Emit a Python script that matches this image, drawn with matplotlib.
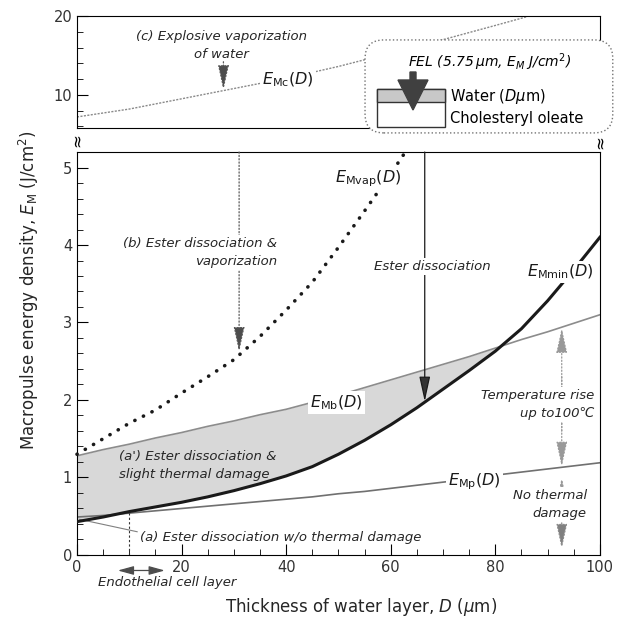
import numpy as np
import matplotlib.pyplot as plt
from matplotlib.patches import FancyBboxPatch, Rectangle, FancyArrow
from matplotlib.ticker import MultipleLocator

# thickness of water layer D (um) and threshold energy densities (J/cm2)
D = [0, 5, 10, 15, 20, 25, 30, 35, 40, 45, 50, 55, 60, 65, 70, 75, 80, 85, 90, 95, 100]
E_Mmin = [0.43, 0.49, 0.56, 0.62, 0.68, 0.75, 0.83, 0.92, 1.02, 1.14, 1.30, 1.48, 1.68,
          1.90, 2.14, 2.38, 2.63, 2.92, 3.28, 3.68, 4.10]
E_Mb = [1.28, 1.36, 1.43, 1.51, 1.58, 1.66, 1.73, 1.81, 1.88, 1.97, 2.06, 2.16, 2.26,
        2.36, 2.46, 2.56, 2.67, 2.78, 2.88, 2.99, 3.10]
E_Mp = [0.49, 0.51, 0.54, 0.57, 0.60, 0.63, 0.66, 0.69, 0.72, 0.75, 0.79, 0.82, 0.86,
        0.90, 0.94, 0.98, 1.03, 1.07, 1.11, 1.15, 1.19]

D_vap = [0, 5, 10, 15, 20, 25, 30, 35, 40, 45, 50, 55, 60, 63]
E_Mvap = [1.30, 1.50, 1.70, 1.87, 2.09, 2.30, 2.52, 2.82, 3.16, 3.52, 3.97, 4.44, 4.92, 5.22]

D_c = [0, 10, 20, 30, 40, 50, 60, 70, 80, 86]
E_Mc = [7.2, 8.2, 9.5, 10.8, 12.1, 13.6, 15.3, 17.0, 18.8, 19.9]

fig = plt.figure(figsize=(6.24, 6.24), dpi=100)
ax = fig.add_axes([0.1234, 0.1106, 0.838, 0.6458])
axt = fig.add_axes([0.1234, 0.7949, 0.838, 0.1795])

# lower panel
ax.set_xlim(0, 100)
ax.set_ylim(0, 5.2)
ax.xaxis.set_major_locator(MultipleLocator(20))
ax.xaxis.set_minor_locator(MultipleLocator(5))
ax.yaxis.set_major_locator(MultipleLocator(1))
ax.yaxis.set_minor_locator(MultipleLocator(0.2))
ax.tick_params(which='both', direction='in', top=False, right=False, labelsize=10.5,
               labelcolor='0.2')
ax.tick_params(which='major', length=8)
ax.tick_params(which='minor', length=4)

# upper panel
axt.set_xlim(0, 100)
axt.set_ylim(5.8, 20)
axt.yaxis.set_major_locator(MultipleLocator(10))
axt.yaxis.set_minor_locator(MultipleLocator(2))
axt.tick_params(axis='x', which='both', bottom=False, labelbottom=False)
axt.tick_params(which='both', direction='in', right=False, labelsize=10.5, labelcolor='0.2')
axt.tick_params(which='major', length=8)
axt.tick_params(which='minor', length=4)

Dn = np.array(D)
mmin = np.array(E_Mmin)
mb = np.array(E_Mb)
ax.fill_between(Dn, mmin, mb, where=mb >= mmin, interpolate=True,
                color='#d8d8d8', lw=0, zorder=1)
ax.plot(D, E_Mb, color='#8c8c8c', lw=1.2, zorder=2)
ax.plot(D, E_Mp, color='#707070', lw=1.2, zorder=2)
ax.plot(D, E_Mmin, color='#1a1a1a', lw=2.2, zorder=3)
ax.plot(D_vap, E_Mvap, color='#1a1a1a', lw=2.6, ls=(0, (0.05, 2.6)),
        dash_capstyle='round', zorder=3, clip_on=False)
axt.plot(D_c, E_Mc, color='#8a8a8a', lw=1.0, ls=(0, (1.5, 1)), zorder=2)

# endothelial cell layer marker
ax.plot([10, 10], [0, E_Mmin[2]], color='0.2', lw=0.8, ls=(0, (2, 2)))


def arrow(a, x, y0, y1, ls=':', color='0.3', head='0.3'):
    a.annotate('', xy=(x, y1), xytext=(x, y0),
               arrowprops=dict(arrowstyle='-|>,head_length=1.1,head_width=0.24',
                               linestyle=ls, lw=0.9, color=color, fc=head,
                               shrinkA=0, shrinkB=0, mutation_scale=14), zorder=4)


arrow(ax, 31, 5.2, 2.62, color='0.35', head='0.3')
arrow(ax, 66.5, 5.2, 1.98, ls='-', color='0.1', head='0.2')
arrow(ax, 92.7, 1.6, 2.93, color='0.6', head='0.6')
arrow(ax, 92.7, 2.3, 1.14, color='0.6', head='0.6')
arrow(ax, 92.7, 0.85, 1.0, color='0.6', head='0.6')
arrow(ax, 92.7, 0.5, 0.08, color='0.55', head='0.5')
arrow(axt, 28, 14.2, 10.6, color='0.35', head='0.3')

wb = dict(fc='white', ec='none', pad=1.5)
it = dict(style='italic', fontsize=9.5, color='0.15', zorder=6)

ax.text(38.2, 3.9, '(b) Ester dissociation &\nvaporization', ha='right', va='center',
        linespacing=1.5, bbox=wb, **it)
ax.text(67.9, 3.72, 'Ester dissociation', ha='center', va='center', bbox=wb, **it)
ax.text(98.9, 1.94, 'Temperature rise\nup to100\u2103', ha='right', va='center',
        linespacing=1.5, bbox=wb, **it)
ax.text(97.5, 0.65, 'No thermal\ndamage', ha='right', va='center',
        linespacing=1.5, bbox=wb, **it)
ax.text(8, 1.16, "(a') Ester dissociation &\nslight thermal damage", ha='left',
        va='center', linespacing=1.5, **it)
ax.text(12, 0.23, '(a) Ester dissociation w/o thermal damage', ha='left', va='center', **it)
ax.plot([0.5, 11.5], [0.46, 0.30], color='0.5', lw=0.8)
ax.annotate('', xy=(7.8, -0.2), xytext=(16.8, -0.2), annotation_clip=False,
            arrowprops=dict(arrowstyle='<|-|>,head_length=0.8,head_width=0.22',
                            lw=0.9, color='0.3', shrinkA=0, shrinkB=0, mutation_scale=12))
ax.text(17.2, -0.36, 'Endothelial cell layer', ha='center', va='center', clip_on=False, **it)
axt.text(27.7, 16.3, '(c) Explosive vaporization\nof water', ha='center', va='center',
         linespacing=1.5, **it)

lab = dict(fontsize=11.5, color='0.1', zorder=6)
ax.text(49.3, 4.86, r'$E_{\rm Mvap}(D)$', ha='left', va='center', bbox=wb, **lab)
ax.text(86, 3.65, r'$E_{\rm Mmin}(D)$', ha='left', va='center', bbox=wb, **lab)
ax.text(44.5, 1.97, r'$E_{\rm Mb}(D)$', ha='left', va='center', bbox=wb, **lab)
ax.text(71, 0.95, r'$E_{\rm Mp}(D)$', ha='left', va='center', bbox=wb, **lab)
axt.text(35.4, 11.9, r'$E_{\rm Mc}(D)$', ha='left', va='center', bbox=wb, **lab)

# axis break marks
fig.text(77 / 624, 1 - 140 / 624, '\u2248', rotation=90, ha='center', va='center', fontsize=12)
fig.text(600 / 624, 1 - 142 / 624, '\u2248', rotation=90, ha='center', va='center', fontsize=12)

# FEL inset
box = FancyBboxPatch((0.597, 0.799), 0.373, 0.125,
                     boxstyle='round,pad=0.012,rounding_size=0.03',
                     transform=fig.transFigure, fc='white', ec='0.45', lw=1.0, ls=':',
                     zorder=10)
fig.add_artist(box)
fig.text(490 / 624, 1 - 62 / 624, r'FEL (5.75$\,\mu$m, $E_M$ J/cm$^2$)', ha='center',
         va='center', style='italic', fontsize=10, zorder=11)
fig.add_artist(Rectangle((377 / 624, 1 - 127 / 624), 68 / 624, 38 / 624,
                         transform=fig.transFigure, fc='white', ec='0.2', lw=1, zorder=11))
fig.add_artist(Rectangle((377 / 624, 1 - 102 / 624), 68 / 624, 13 / 624,
                         transform=fig.transFigure, fc='#c8c8c8', ec='0.2', lw=1, zorder=11))
fig.add_artist(FancyArrow(413 / 624, 1 - 72 / 624, 0, -38 / 624, width=6 / 624,
                          head_width=30 / 624, head_length=30 / 624,
                          length_includes_head=True, transform=fig.transFigure,
                          fc='0.25', ec='0.25', zorder=12))
fig.text(450 / 624, 1 - 97 / 624, r'Water ($D\mu$m)', ha='left', va='center',
         fontsize=10.5, zorder=11)
fig.text(450 / 624, 1 - 118 / 624, 'Cholesteryl oleate', ha='left', va='center',
         fontsize=10.5, zorder=11)

fig.text(361 / 624, 1 - 607 / 624, r'Thickness of water layer, $D$ ($\mu$m)',
         ha='center', va='center', fontsize=12, color='0.15')
fig.text(29 / 624, 1 - 290 / 624, r'Macropulse energy density, $E_{\rm M}$ (J/cm$^2$)',
         ha='center', va='center', rotation=90, fontsize=12, color='0.15')

fig.savefig('out.png', dpi=100)
